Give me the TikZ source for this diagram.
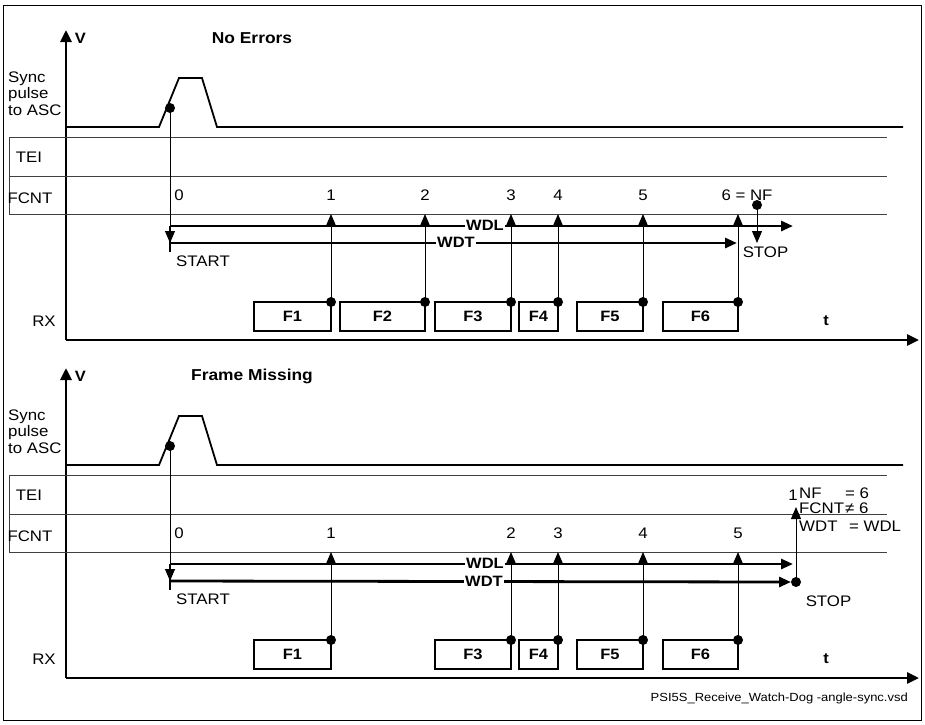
\documentclass[tikz,border=0pt]{standalone}
\usepackage{fontspec}
\setmainfont[FakeStretch=1.1]{Liberation Sans}
\usetikzlibrary{arrows.meta}
\tikzset{
  lbl/.style={font=\fontsize{15.3}{17}\selectfont, inner sep=0pt},
  bl/.style={font=\bfseries\fontsize{15}{17}\selectfont, inner sep=0pt},
  ttl/.style={font=\bfseries\fontsize{15.8}{17}\selectfont, inner sep=0pt},
  axis/.style={line width=2.8pt, -{Triangle[length=12pt,width=11pt]}},
  sig/.style={line width=1.8pt},
  row/.style={line width=0.9pt, black!75},
  ev/.style={line width=1pt, -{Triangle[length=12pt,width=10pt]}},
  wd/.style={line width=2.8pt, -{Triangle[length=12pt,width=10pt]}},
  dotn/.style={circle, fill=black, inner sep=0pt, minimum size=10pt},
  frm/.style={draw, line width=1.9pt, minimum height=29pt, inner sep=0pt,
              font=\bfseries\fontsize{15}{17}\selectfont},
  wdlab/.style={fill=white, inner xsep=1pt, inner ysep=0pt, font=\bfseries\fontsize{15}{17}\selectfont},
}
\newcommand\mypanelbase[2]{%
  \coordinate (o#1) at (66,340);
  \coordinate (vt#1) at (66,30);
  \coordinate (te#1) at (919,340);
  \draw[axis] (o#1) -- (vt#1);
  \draw[axis] (o#1) -- (te#1);
  \node[bl] (v#1) at (80.5,38.5) {V};
  \node[ttl] (title#1) at (252,38.5) {#2};
  \draw[sig] (66,127) -- (159,127) -- (179,78) -- (202,78) -- (217,127) -- (903,127);
  \draw[row] (887,137) -- (9,137) -- (9,214) -- (887,214);
  \draw[row] (9,176) -- (887,176);
  \node[lbl, anchor=base west] (sync#1) at (8,82) {Sync};
  \node[lbl, anchor=base west] (pulse#1) at (8,98.5) {pulse};
  \node[lbl, anchor=base west] (asc#1) at (8,115) {to ASC};
  \node[lbl] (tei#1) at (29,157) {TEI};
  \node[lbl] (fcnt#1) at (30,198) {FCNT};
  \node[lbl] (rx#1) at (44,321) {RX};
  \node[bl] (t#1) at (826,321) {t};
  \node[lbl] (zero#1) at (179,195) {0};
  \node[dotn] (sd#1) at (170,108) {};
  \coordinate (st#1) at (170,243);
  \coordinate (sa#1) at (170,226);
  \coordinate (sb#1) at (170,252);
  \draw[ev] (sd#1.center) -- (st#1);
  \draw[line width=2.8pt] (sa#1) -- (sb#1);
  \node[lbl] (start#1) at (203,261) {START};
}
\begin{document}
\begin{tikzpicture}[x=1pt,y=-1pt]
\useasboundingbox (0,0) rectangle (925,724);
\draw[line width=0.8pt] (3,5) rectangle (921,720);

% ---------------- top panel ----------------
\mypanelbase{a}{No Errors}
\node[frm, minimum width=77pt] (fa1) at (292.5,316.5) {F1};
\node[frm, minimum width=85pt] (fa2) at (382.5,316.5) {F2};
\node[frm, minimum width=76pt] (fa3) at (473,316.5) {F3};
\node[frm, minimum width=39pt] (fa4) at (538.5,316.5) {F4};
\node[frm, minimum width=66pt] (fa5) at (610,316.5) {F5};
\node[frm, minimum width=75pt] (fa6) at (700.5,316.5) {F6};
\foreach \i/\x in {1/331,2/425,3/511,4/558,5/643,6/738}{
  \node[dotn] (da\i) at (\x,302) {};
  \coordinate (ea\i) at (\x,214);
  \draw[ev] (da\i.center) -- (ea\i);
}
\foreach \i/\x in {1/331,2/425,3/511,4/558,5/643}{
  \node[lbl] (na\i) at (\x,195) {\i};
}
\node[lbl] (na6) at (747,195) {6 = NF};
\coordinate (wdla) at (793,226);
\coordinate (wdta) at (737,243);
\draw[wd] (saa) -- (wdla);
\draw[wd] (sta) -- (wdta);
\node[wdlab] (lwdla) at (485,225) {WDL};
\node[wdlab] (lwdta) at (456,242) {WDT};
\node[dotn] (stopda) at (757,205) {};
\coordinate (stopta) at (757,243);
\draw[ev] (stopda.center) -- (stopta);
\node[lbl] (stopa) at (765.5,252) {STOP};

% ---------------- bottom panel ----------------
\begin{scope}[yshift=-338pt]
\mypanelbase{b}{Frame Missing}
\node[frm, minimum width=77pt] (fb1) at (292.5,316.5) {F1};
\node[frm, minimum width=76pt] (fb3) at (473,316.5) {F3};
\node[frm, minimum width=39pt] (fb4) at (538.5,316.5) {F4};
\node[frm, minimum width=66pt] (fb5) at (610,316.5) {F5};
\node[frm, minimum width=75pt] (fb6) at (700.5,316.5) {F6};
\foreach \i/\x in {1/331,2/511,3/558,4/643,5/738}{
  \node[dotn] (db\i) at (\x,302) {};
  \coordinate (eb\i) at (\x,214);
  \draw[ev] (db\i.center) -- (eb\i);
  \node[lbl] (nb\i) at (\x,195) {\i};
}
\coordinate (wdlb) at (793,226);
\coordinate (wdtb) at (791,244);
\draw[wd] (sab) -- (wdlb);
\draw[wd] (stb) -- (wdtb);
\node[wdlab] (lwdlb) at (485,225) {WDL};
\node[wdlab] (lwdtb) at (484,243) {WDT};
\node[dotn] (stopdb) at (796,244) {};
\coordinate (stoptb) at (796,169);
\draw[ev] (stopdb.center) -- (stoptb);
\node[lbl] (stopb) at (828.5,263) {STOP};
\node[lbl] (oneb) at (793,157) {1};
\node[lbl, anchor=west] (nfb) at (799,155) {NF};
\node[lbl, anchor=west] (nfvb) at (845,155) {= 6};
\node[lbl, anchor=west] (fcb) at (799,170.5) {FCNT};
\node[lbl, anchor=west] (fcvb) at (845,170.5) {≠ 6};
\node[lbl, anchor=west] (wdb) at (799,188) {WDT};
\node[lbl, anchor=west] (wdvb) at (849,188) {= WDL};
\end{scope}

\node[font=\fontsize{11.8}{13}\selectfont, inner sep=0pt, anchor=east] (fname) at (908,698)
  {PSI5S\_Receive\_Watch-Dog -angle-sync.vsd};
\end{tikzpicture}
\end{document}
